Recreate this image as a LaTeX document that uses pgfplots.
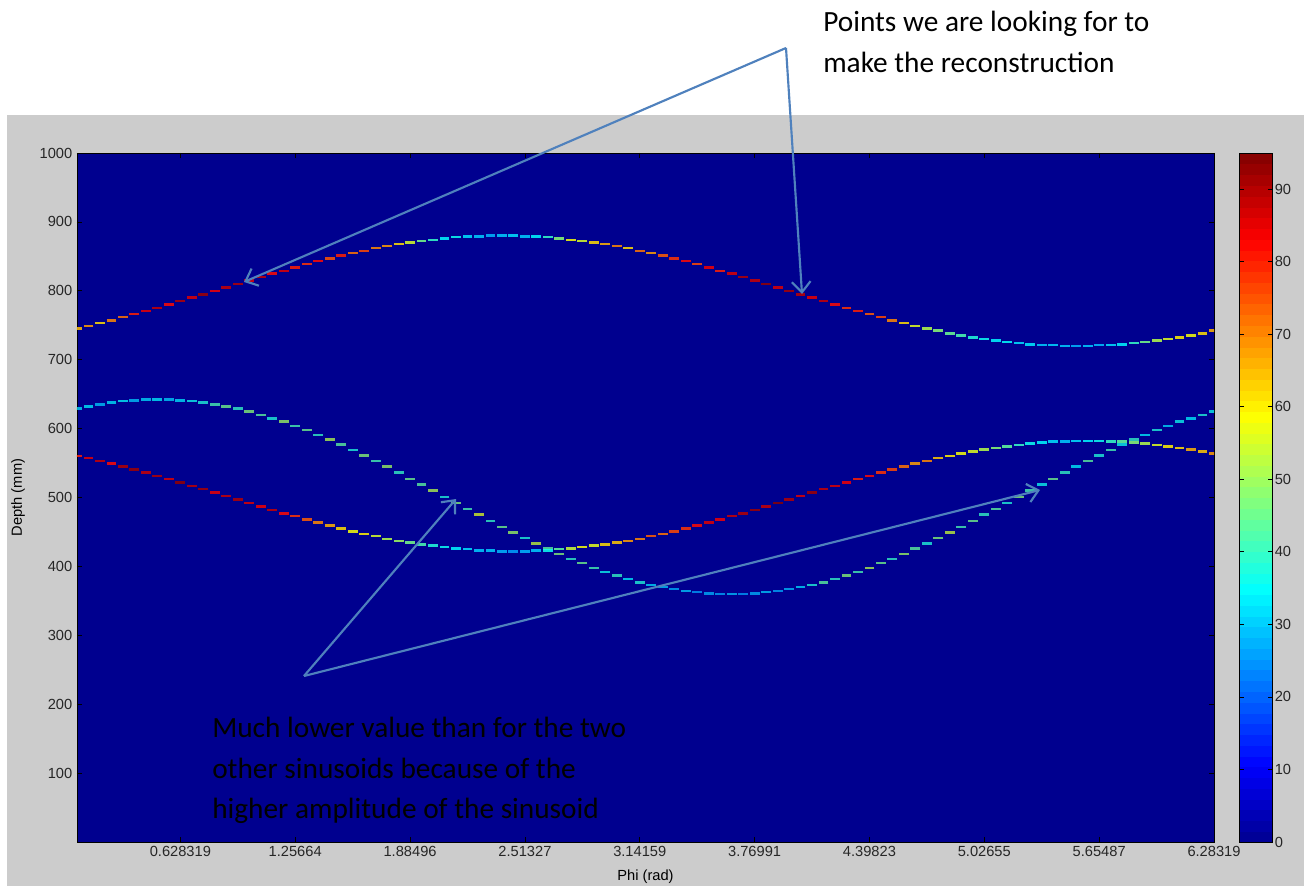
\documentclass[border=0pt]{standalone}
\usepackage{pgfplots}
\pgfplotsset{compat=1.18}
\usepackage{pgfplotstable}
\usetikzlibrary{arrows.meta}
\usepackage{fontspec}
\setmainfont{Liberation Sans}
\newfontfamily\carlito{Carlito}
\definecolor{figgray}{RGB}{204,204,204}
\definecolor{jetbg}{RGB}{0,0,143}
\definecolor{annblue}{RGB}{79,129,189}
\newcommand{\annfont}{\carlito\fontsize{22}{26}\selectfont}
\newcommand{\tickfont}{\fontsize{11}{13}\selectfont}

\pgfplotstableread[row sep=\\]{
i d v\\
1 745 65\\ 2 749 68\\ 3 753 62\\ 4 757 70\\ 5 762 72\\ 6 766 80\\ 7 771 85\\ 8 775 88\\ 9 780 82\\ 10 785 90\\
11 790 86\\ 12 795 92\\ 13 800 84\\ 14 805 88\\ 15 810 90\\ 16 815 85\\ 17 820 88\\ 18 825 82\\ 19 829 86\\ 20 834 80\\
21 839 78\\ 22 843 82\\ 23 847 75\\ 24 851 80\\ 25 855 72\\ 26 858 76\\ 27 862 70\\ 28 865 68\\ 29 868 62\\ 30 870 55\\
31 872 46\\ 32 874 40\\ 33 876 34\\ 34 878 36\\ 35 879 32\\ 36 879 30\\ 37 880 28\\ 38 880 30\\ 39 880 32\\ 40 879 30\\
41 879 34\\ 42 878 40\\ 43 876 48\\ 44 874 58\\ 45 872 55\\ 46 870 62\\ 47 868 66\\ 48 865 70\\ 49 862 62\\ 50 858 72\\
51 855 68\\ 52 851 74\\ 53 847 78\\ 54 843 82\\ 55 839 76\\ 56 834 84\\ 57 829 80\\ 58 825 86\\ 59 820 90\\ 60 815 88\\
61 810 93\\ 62 805 86\\ 63 800 91\\ 64 795 89\\ 65 790 85\\ 66 785 88\\ 67 780 82\\ 68 775 78\\ 69 771 80\\ 70 766 74\\
71 762 76\\ 72 757 70\\ 73 753 62\\ 74 749 56\\ 75 745 52\\ 76 742 48\\ 77 738 45\\ 78 735 42\\ 79 732 38\\ 80 730 36\\
81 728 34\\ 82 726 35\\ 83 724 32\\ 84 722 33\\ 85 721 30\\ 86 721 31\\ 87 720 30\\ 88 720 28\\ 89 720 30\\ 90 721 29\\
91 721 32\\ 92 722 34\\ 93 724 40\\ 94 726 46\\ 95 728 52\\ 96 730 56\\ 97 732 60\\ 98 735 58\\ 99 738 62\\ 100 742 66\\
}\curveA

\pgfplotstableread[row sep=\\]{
i d v\\
1 629 32\\ 2 632 34\\ 3 635 30\\ 4 638 33\\ 5 640 35\\ 6 641 30\\ 7 642 32\\ 8 642 34\\ 9 642 31\\ 10 641 33\\
11 640 36\\ 12 638 38\\ 13 635 42\\ 14 632 46\\ 15 629 40\\ 16 625 48\\ 17 620 44\\ 18 615 38\\ 19 610 50\\ 20 604 42\\
21 598 46\\ 22 591 40\\ 23 584 52\\ 24 577 44\\ 25 569 38\\ 26 561 48\\ 27 553 42\\ 28 545 50\\ 29 536 40\\ 30 527 46\\
31 519 44\\ 32 510 52\\ 33 501 38\\ 34 492 48\\ 35 483 42\\ 36 475 56\\ 37 466 40\\ 38 457 46\\ 39 449 50\\ 40 441 38\\
41 433 54\\ 42 426 44\\ 43 418 48\\ 44 411 40\\ 45 405 46\\ 46 398 42\\ 47 392 36\\ 48 387 40\\ 49 382 34\\ 50 377 38\\
51 373 32\\ 52 370 30\\ 53 367 28\\ 54 364 30\\ 55 363 26\\ 56 361 28\\ 57 360 27\\ 58 360 29\\ 59 360 26\\ 60 361 28\\
61 363 30\\ 62 364 27\\ 63 367 29\\ 64 370 32\\ 65 373 38\\ 66 377 44\\ 67 382 40\\ 68 387 48\\ 69 392 42\\ 70 398 52\\
71 405 46\\ 72 411 40\\ 73 418 50\\ 74 426 44\\ 75 433 38\\ 76 441 48\\ 77 449 54\\ 78 457 42\\ 79 466 46\\ 80 475 40\\
81 483 44\\ 82 492 38\\ 83 501 48\\ 84 510 42\\ 85 519 36\\ 86 527 46\\ 87 536 40\\ 88 545 34\\ 89 553 44\\ 90 561 38\\
91 569 42\\ 92 577 36\\ 93 584 40\\ 94 591 34\\ 95 598 38\\ 96 604 32\\ 97 610 36\\ 98 615 34\\ 99 620 38\\ 100 625 36\\
}\curveB

\pgfplotstableread[row sep=\\]{
i d v\\
1 560 80\\ 2 557 85\\ 3 553 88\\ 4 549 82\\ 5 545 90\\ 6 541 92\\ 7 536 88\\ 8 531 90\\ 9 527 86\\ 10 522 93\\
11 517 89\\ 12 512 91\\ 13 507 85\\ 14 502 88\\ 15 497 90\\ 16 492 86\\ 17 487 84\\ 18 482 88\\ 19 477 82\\ 20 473 78\\
21 468 74\\ 22 464 70\\ 23 459 66\\ 24 455 62\\ 25 451 58\\ 26 447 60\\ 27 444 55\\ 28 440 52\\ 29 437 50\\ 30 435 46\\
31 432 42\\ 32 430 38\\ 33 428 36\\ 34 426 34\\ 35 425 32\\ 36 423 30\\ 37 423 30\\ 38 422 28\\ 39 422 26\\ 40 422 28\\
41 423 30\\ 42 423 36\\ 43 425 44\\ 44 426 54\\ 45 428 58\\ 46 430 56\\ 47 432 62\\ 48 435 64\\ 49 437 68\\ 50 440 70\\
51 444 74\\ 52 447 72\\ 53 451 76\\ 54 455 78\\ 55 459 82\\ 56 464 86\\ 57 468 84\\ 58 473 88\\ 59 477 90\\ 60 482 92\\
61 487 88\\ 62 492 94\\ 63 497 90\\ 64 502 86\\ 65 507 92\\ 66 512 88\\ 67 517 86\\ 68 522 84\\ 69 527 80\\ 70 531 82\\
71 536 78\\ 72 541 76\\ 73 545 72\\ 74 549 68\\ 75 553 70\\ 76 557 64\\ 77 560 60\\ 78 564 58\\ 79 567 56\\ 80 570 52\\
81 572 48\\ 82 574 44\\ 83 576 40\\ 84 578 36\\ 85 580 34\\ 86 581 32\\ 87 581 30\\ 88 582 32\\ 89 582 34\\ 90 582 36\\
91 581 40\\ 92 581 44\\ 93 580 48\\ 94 578 52\\ 95 576 56\\ 96 574 60\\ 97 572 62\\ 98 570 66\\ 99 567 64\\ 100 564 68\\
}\curveC

\begin{document}
\begin{tikzpicture}
% background in pixel units: pixel (px,py) -> axis-relative coordinates
\begin{scope}[x=0.75pt,y=-0.75pt,shift={(-57.75pt,631.5pt)}]
  \fill[white] (0,0) rectangle (1309,886);
  \fill[figgray] (7,115) rectangle (1304,886);
\end{scope}

\begin{axis}[
  at={(0,0)}, anchor=south west,
  scale only axis,
  width=852.75pt, height=516.75pt,
  xmin=0.0628319, xmax=6.2832, ymin=0, ymax=1000,
  axis background/.style={fill=jetbg},
  colormap={matjet}{rgb255(0cm)=(0,0,143); rgb255(7cm)=(0,0,255); rgb255(23cm)=(0,255,255); rgb255(39cm)=(255,255,0); rgb255(55cm)=(255,0,0); rgb255(63cm)=(128,0,0)},
  point meta min=0, point meta max=95,
  xtick={0.628319,1.256637,1.884956,2.513274,3.141593,3.769911,4.398230,5.026548,5.654867,6.283185},
  xticklabels={0.628319,1.25664,1.88496,2.51327,3.14159,3.76991,4.39823,5.02655,5.65487,6.28319},
  ytick={100,200,...,1000},
  /pgf/number format/assume math mode=true,
  /pgf/number format/1000 sep={},
  tick label style={font=\tickfont, text=black!85},
  label style={font=\tickfont},
  tick align=inside,
  major tick length=3.75pt,
  tick style={black, line width=0.5pt},
  axis line style={black, line width=0.6pt},
  xlabel={Phi (rad)},
  ylabel={Depth (mm)},
  xlabel style={at={(axis description cs:0.5,0)}, anchor=center, yshift=-26.25pt},
  ylabel style={at={(axis description cs:0,0.5)}, anchor=center, yshift=44.25pt},
  clip marker paths=true,
  colorbar sampled,
  colorbar style={
    at={(parent axis.north east)}, anchor=north west, xshift=10.5pt,
    width=25pt,
    samples=65,
    ytick={0,10,...,90},
    ytick pos=both,
    yticklabel pos=right,
    tick align=inside,
    major tick length=3.75pt,
    tick style={black, line width=0.6pt},
    axis line style={black, line width=0.6pt},
    yticklabel style={font=\tickfont, text=black!85, xshift=-2pt},
    /pgf/number format/assume math mode=true,
  },
]
\addplot[scatter, only marks, mark=-, mark size=3.7pt, point meta=explicit,
  scatter/use mapped color={draw=mapped color, fill=mapped color},
  mark options={line width=1.9pt, opacity=0.75}]
  table[x expr=\thisrow{i}*0.0628319, y=d, meta=v] {\curveB};
\addplot[scatter, only marks, mark=-, mark size=3.7pt, point meta=explicit,
  scatter/use mapped color={draw=mapped color, fill=mapped color},
  mark options={line width=1.9pt, opacity=0.85}]
  table[x expr=\thisrow{i}*0.0628319, y=d, meta=v] {\curveC};
\addplot[scatter, only marks, mark=-, mark size=3.7pt, point meta=explicit,
  scatter/use mapped color={draw=mapped color, fill=mapped color},
  mark options={line width=1.9pt, opacity=0.85}]
  table[x expr=\thisrow{i}*0.0628319, y=d, meta=v] {\curveA};
\end{axis}

% annotations in pixel units
\begin{scope}[x=0.75pt,y=-0.75pt,shift={(-57.75pt,631.5pt)}]
  \tikzset{ann/.style={draw=annblue, line width=1.6pt, -{Straight Barb[length=8pt,width=14pt,line width=1.6pt]}}}
  \draw[ann] (786,48) -- (244,282);
  \draw[ann] (786,48) -- (802,294);
  \draw[ann] (304,676) -- (456,499);
  \draw[ann] (304,676) -- (1040,490);
  \node[anchor=base west, inner sep=0, font=\annfont] at (823,32) {Points we are looking for to};
  \node[anchor=base west, inner sep=0, font=\annfont] at (823,73) {make the reconstruction};
  \node[anchor=base west, inner sep=0, font=\annfont] at (212,737) {Much lower value than for the two};
  \node[anchor=base west, inner sep=0, font=\annfont] at (212,778) {other sinusoids because of the};
  \node[anchor=base west, inner sep=0, font=\annfont] at (212,818) {higher amplitude of the sinusoid};
\end{scope}
\end{tikzpicture}
\end{document}
